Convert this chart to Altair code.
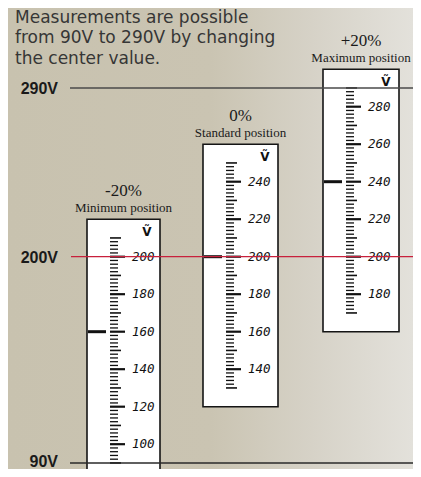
import altair as alt
import pandas as pd

# ---------------- data ----------------
intro_lines = ["Measurements are possible", "from 90V to 290V by changing", "the center value."]

ref_levels = [290, 200, 90]
ref_labels = ["290V", "200V", "90V"]
ref_colors = ["#4a4a4a", "#c8203c", "#2a2a2a"]

panel_titles = ["-20%", "0%", "+20%"]
panel_subtitles = ["Minimum position", "Standard position", "Maximum position"]
center_values = [160, 200, 240]
scale_labels = [
    [100, 120, 140, 160, 180, 200],
    [140, 160, 180, 200, 220, 240],
    [180, 200, 220, 240, 260, 280],
]
tick_low = [90, 130, 170]
tick_high = [210, 250, 290]
box_low = [80, 120, 160]
box_high = [220, 260, 300]
tick_step = 2

# ---------------- layout ----------------
W, H = 405, 461
panel_left = [79, 195, 315]
panel_right = [152, 270, 391]

xs = alt.Scale(domain=[0, W], nice=False, zero=False)
ys = alt.Scale(domain=[86.77, 332.64], nice=False, zero=False)

# background
bg = alt.Chart(pd.DataFrame({"a": [0]})).mark_rect(
    color=alt.LinearGradient(
        gradient="linear",
        stops=[
            alt.GradientStop(color="#c8c2af", offset=0),
            alt.GradientStop(color="#cac4b2", offset=0.5),
            alt.GradientStop(color="#d6d2c7", offset=0.75),
            alt.GradientStop(color="#e3e1db", offset=1),
        ],
        x1=0, x2=1, y1=0, y2=0,
    )
).encode(x=alt.value(0), x2=alt.value(W), y=alt.value(0), y2=alt.value(H))

intro = alt.Chart(pd.DataFrame({"a": [0]})).mark_text(
    text=intro_lines, align="left", baseline="alphabetic", lineHeight=20.5,
    font="DejaVu Sans", fontSize=17, color="#363636",
).encode(x=alt.value(7), y=alt.value(14.5))

# panels
pdf = pd.DataFrame({
    "left": panel_left, "right": panel_right,
    "lo": box_low, "hi": box_high,
    "title": panel_titles, "sub": panel_subtitles,
    "center": center_values,
})
pdf["mid"] = (pdf["left"] + pdf["right"]) / 2
pdf["vx"] = pdf["right"] - 13
pdf["m0"] = pdf["left"] + 1
pdf["m1"] = pdf["left"] + 19

boxes = alt.Chart(pdf).mark_rect(
    fill="white", stroke="#151515", strokeWidth=1.6, clip=True
).encode(
    x=alt.X("left:Q", scale=xs, axis=None),
    x2="right:Q",
    y=alt.Y("lo:Q", scale=ys, axis=None),
    y2="hi:Q",
)

titles = alt.Chart(pdf).mark_text(
    font="Liberation Serif", fontSize=17, baseline="alphabetic", dy=-23.5, color="#1a1a1a"
).encode(x=alt.X("mid:Q", scale=xs), y=alt.Y("hi:Q", scale=ys), text="title:N")

subs = alt.Chart(pdf).mark_text(
    font="Liberation Serif", fontSize=13, baseline="alphabetic", dy=-7.5, color="#1a1a1a"
).encode(x=alt.X("mid:Q", scale=xs), y=alt.Y("hi:Q", scale=ys), text="sub:N")

vsym = alt.Chart(pdf).mark_text(
    font="DejaVu Sans", fontSize=12, fontWeight="bold", baseline="alphabetic", dy=17,
    text="\u1e7c", color="#111111",
).encode(x=alt.X("vx:Q", scale=xs), y=alt.Y("hi:Q", scale=ys))

marker = alt.Chart(pdf).mark_rule(strokeWidth=3, color="#111111").encode(
    x=alt.X("m0:Q", scale=xs), x2="m1:Q", y=alt.Y("center:Q", scale=ys)
)

# scale ticks
rows = []
for i in range(3):
    for v in range(tick_low[i], tick_high[i] + 1, tick_step):
        if v % 20 == 0:
            ln, sw = 15, 2.2
        elif v % 10 == 0:
            ln, sw = 11, 1.6
        else:
            ln, sw = 8, 1.3
        rows.append({"x0": panel_left[i] + 23, "x1": panel_left[i] + 23 + ln, "v": v, "sw": sw})
tdf = pd.DataFrame(rows)
ticks = alt.Chart(tdf).mark_rule(color="#111111").encode(
    x=alt.X("x0:Q", scale=xs), x2="x1:Q", y=alt.Y("v:Q", scale=ys),
    strokeWidth=alt.StrokeWidth("sw:Q", scale=None),
)

lrows = []
for i in range(3):
    for v in scale_labels[i]:
        lrows.append({"x": panel_left[i] + 45, "v": v, "t": str(v)})
ldf = pd.DataFrame(lrows)
slabels = alt.Chart(ldf).mark_text(
    font="DejaVu Sans Mono", fontSize=12.5, fontStyle="italic", align="left",
    baseline="middle", color="#111111",
).encode(x=alt.X("x:Q", scale=xs), y=alt.Y("v:Q", scale=ys), text="t:N")

# reference lines
rdf = pd.DataFrame({"v": ref_levels, "lab": ref_labels, "col": ref_colors,
                    "x0": [62, 63, 62], "x1": [412, 413, 410], "sw": [1.4, 1.2, 1.4]})
rlines = alt.Chart(rdf).mark_rule().encode(
    x=alt.X("x0:Q", scale=xs), x2="x1:Q", y=alt.Y("v:Q", scale=ys),
    color=alt.Color("col:N", scale=None),
    strokeWidth=alt.StrokeWidth("sw:Q", scale=None),
)
rlabels_top = alt.Chart(rdf[rdf["v"] > 100]).mark_text(
    font="Liberation Sans", fontSize=16, fontWeight="bold", align="right",
    baseline="middle", dy=1.5, color="#1a1a1a",
).encode(x=alt.value(50), y=alt.Y("v:Q", scale=ys), text="lab:N")
rlabels_bot = alt.Chart(rdf[rdf["v"] < 100]).mark_text(
    font="Liberation Sans", fontSize=16, fontWeight="bold", align="right",
    baseline="middle", dy=-0.5, color="#1a1a1a",
).encode(x=alt.value(50), y=alt.Y("v:Q", scale=ys), text="lab:N")

chart = alt.layer(
    bg, intro, boxes, titles, subs, vsym, ticks, slabels, marker, rlines,
    rlabels_top, rlabels_bot
).properties(
    width=W, height=H, padding=0, autosize=alt.AutoSizeParams(type="none"),
    background="#c9c3b1",
).configure_view(stroke=None)

chart.save("out.html", embed_options={"renderer": "svg", "actions": False})
